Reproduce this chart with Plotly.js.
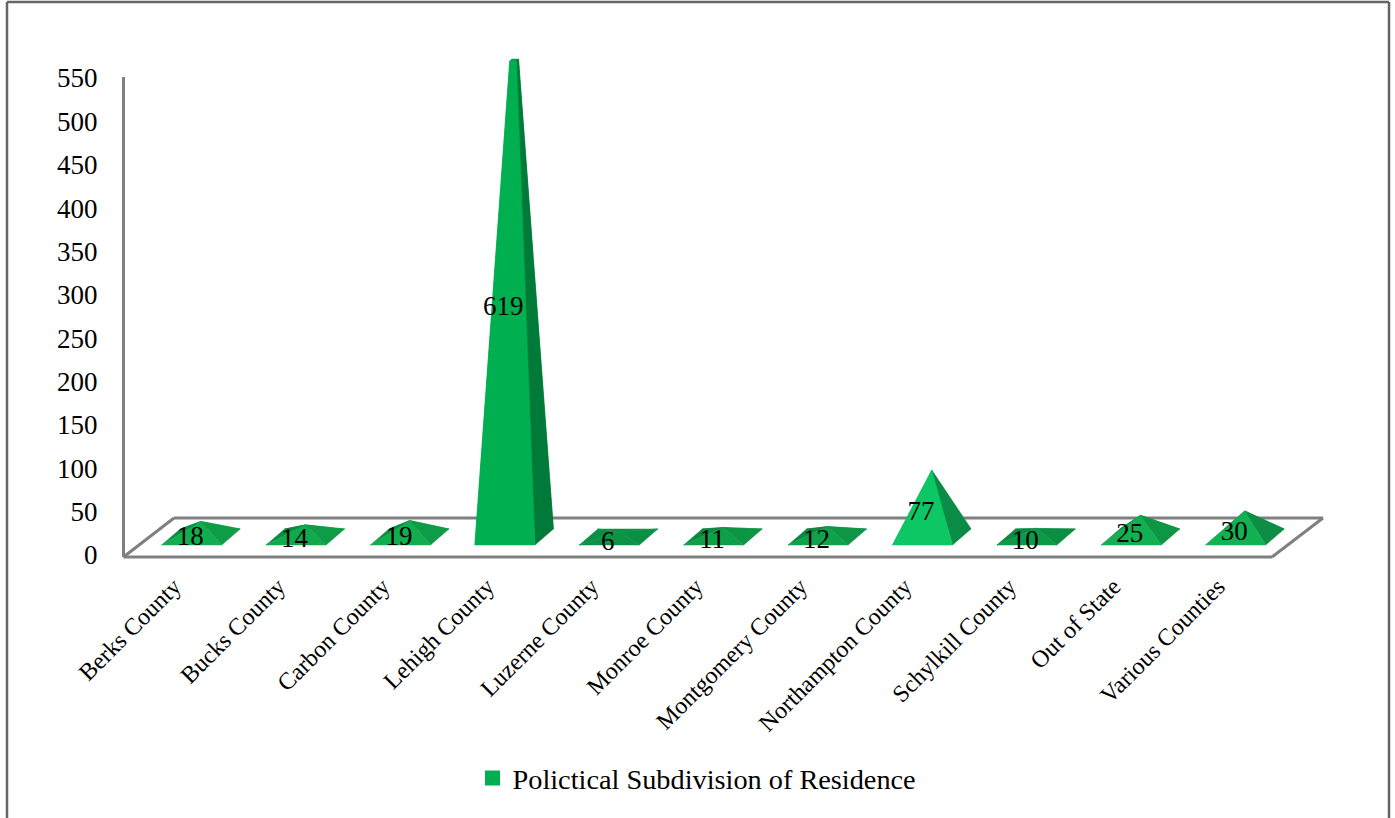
<!DOCTYPE html>
<html><head><meta charset="utf-8">
<script src="https://cdn.plot.ly/plotly-3.0.1.min.js"></script>
<style>html,body{margin:0;padding:0;background:#fff;overflow:hidden}#c{width:1395px;height:818px}</style>
</head><body><div id="c"></div>
<script>
const categories=["Berks County","Bucks County","Carbon County","Lehigh County","Luzerne County","Monroe County","Montgomery County","Northampton County","Schylkill County","Out of State","Various Counties"];
const values=[18,14,19,619,6,11,12,77,10,25,30];
const frontColors=["#10AE4E","#10AA4D","#10AE4E","#00B050","#0A9345","#0E9F49","#0FA24B","#0CC763","#0C9A47","#12B050","#12B252"];
const rightColors=["#0E9C47","#0E9C47","#0E9C47","#007A38","#0A9044","#0E9445","#0E9646","#0A8C46","#0B8E42","#0E9646","#0C8E44"];
const leftColors=["#0A8C40","#0A8C40","#0A8C40","#009A46","#0A9044","#0A8A40","#0A8A40","#0AA850","#0A8A40","#0A8C42","#0A8C42"];
const yTicks=[0,50,100,150,200,250,300,350,400,450,500,550];
const seriesName="Polictical Subdivision of Residence";
const serif='"Liberation Serif", serif';

const W=1395,H=818,L=123,R=1323,T=50,B=558;
const pxPerUnit=0.8673,zeroPx=555,stepPx=104.4,firstPx=191.7;
const xOf=p=>(p-firstPx)/stepPx, yOf=p=>(zeroPx-p)/pxPerUnit;
const halfW=30/stepPx, dx=18.5/stepPx, dy=16/pxPerUnit, baseY=yOf(545), maxV=550;

const traces=[];
values.forEach((v,i)=>{
  const h=Math.min(v,maxV), t=h/v;
  const apex=[i+dx/2, baseY+dy/2+v];
  const FL=[i-halfW,baseY],FR=[i+halfW,baseY],BR=[FR[0]+dx,baseY+dy],BL=[FL[0]+dx,baseY+dy];
  const to=p=>[p[0]+(apex[0]-p[0])*t,p[1]+(apex[1]-p[1])*t];
  const face=(a,b,c)=>{
    const pts=[a,b,to(b),to(a),a];
    traces.push({type:'scatter',mode:'lines',x:pts.map(q=>q[0]),y:pts.map(q=>q[1]),fill:'toself',fillcolor:c,
      line:{width:0.5,color:c},hoverinfo:'skip',showlegend:false});
  };
  face(BL,BR,leftColors[i]);
  face(FL,BL,leftColors[i]);
  face(FR,BR,rightColors[i]);
  face(FL,FR,frontColors[i]);
});
traces.push({type:'scatter',mode:'text',x:values.map((v,i)=>i-0.015),y:values.map(v=>baseY-1.5+Math.min(v,maxV)/2),
  text:values.map(String),textposition:'middle center',textfont:{family:serif,size:27,color:'#000'},
  hoverinfo:'skip',showlegend:false,cliponaxis:false});
traces.push({type:'scatter',mode:'markers',x:[null],y:[null],name:seriesName,
  marker:{symbol:'square',size:15,color:'#00B050'},showlegend:true});

const xp=p=>(p-L)/(R-L);
const paperY=p=>(B-p)/(B-T);
const gray='#808080';
const seg=(x0,y0,x1,y1,c,w)=>({type:'line',xref:'paper',yref:'paper',x0:xp(x0),x1:xp(x1),y0:paperY(y0),y1:paperY(y1),line:{color:c,width:w},layer:'below'});
const shapes=[
  seg(123.5,77,123.5,557,gray,3),
  seg(123.5,557,1272,557,gray,3),
  seg(1272,557,1323,518,gray,3),
  seg(1323,518,174,518,gray,3),
  seg(174,518,123.5,557,gray,3),
  seg(7,818,7,2,'#666',2.5),
  seg(7,2,1389,2,'#666',2.5),
  seg(1389,2,1389,818,'#666',2.5)
];

Plotly.newPlot('c',traces,{
  width:W,height:H,autosize:false,
  margin:{l:L,r:W-R,t:T,b:H-B,pad:0},
  paper_bgcolor:'#fff',plot_bgcolor:'rgba(0,0,0,0)',
  xaxis:{range:[xOf(L),xOf(R)],tickmode:'array',tickvals:categories.map((c,i)=>i-0.17),ticktext:categories,
    tickangle:-45,tickfont:{family:serif,size:24,color:'#000'},showgrid:false,zeroline:false,showline:false,
    ticks:'outside',ticklen:4,tickcolor:'rgba(0,0,0,0)'},
  yaxis:{range:[yOf(B),yOf(T)],tickmode:'array',tickvals:yTicks,ticktext:yTicks.map(String),
    tickfont:{family:serif,size:27,color:'#000'},showgrid:false,zeroline:false,showline:false,
    ticks:'outside',ticklen:19,tickcolor:'rgba(0,0,0,0)'},
  shapes:shapes,
  showlegend:true,
  legend:{orientation:'h',x:xp(697),xanchor:'center',y:paperY(778),yanchor:'middle',font:{family:serif,size:28.3,color:'#000'},bgcolor:'rgba(0,0,0,0)'},
  hovermode:false
},{displayModeBar:false,staticPlot:true});
</script></body></html>
